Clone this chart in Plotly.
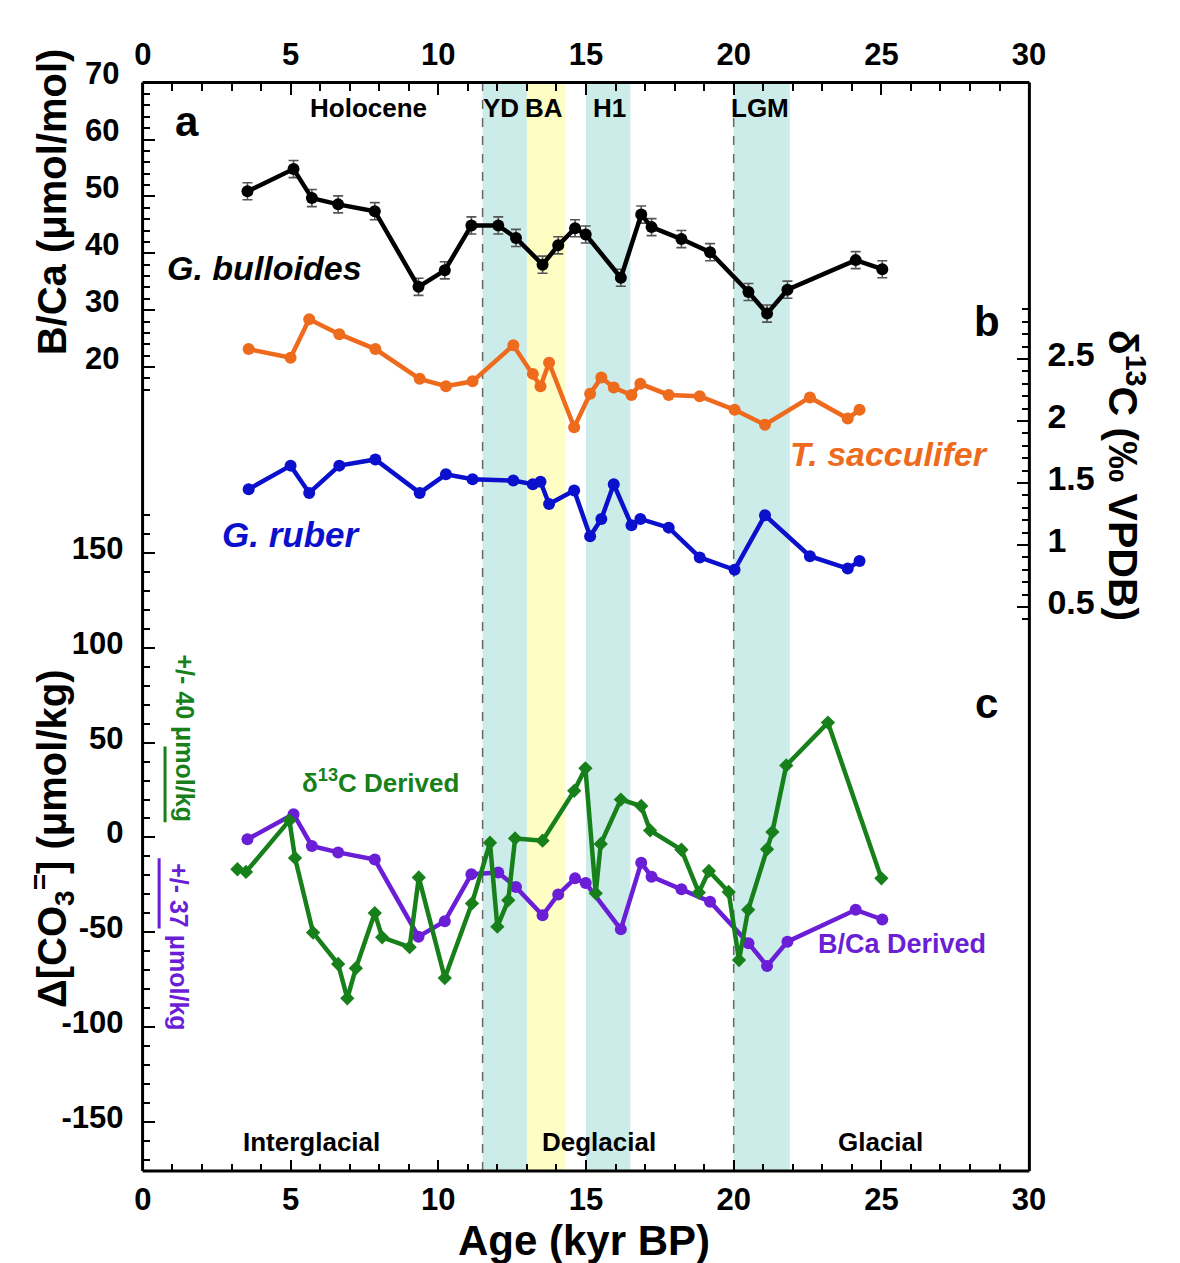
import plotly.graph_objects as go

# ---------------- data ----------------
# G. bulloides B/Ca (umol/mol) and the Delta[CO3=] derived from it
age_bca = [3.54, 5.10, 5.72, 6.61, 7.85, 9.33, 10.22, 11.12, 12.03, 12.63, 13.53, 14.06,
           14.63, 14.99, 16.18, 16.87, 17.22, 18.23, 19.20, 20.50, 21.13, 21.82, 24.13, 25.03]
bca_bulloides = [50.9, 54.8, 49.7, 48.6, 47.4, 34.1, 37.0, 44.9, 44.9, 42.7, 38.0, 41.4,
                 44.4, 43.3, 35.7, 46.8, 44.6, 42.5, 40.2, 33.2, 29.4, 33.6, 38.8, 37.2]
bca_err = [1.5] * len(age_bca)
dco3_bca = [-1.0, 12.3, -4.5, -7.9, -11.7, -52.4, -44.2, -19.4, -18.5, -26.2, -41.1, -30.1,
            -21.6, -24.1, -48.5, -13.4, -20.7, -27.4, -33.9, -55.8, -67.8, -55.0, -38.2, -43.3]

# planktonic d13C (permil VPDB)
age_d13c = [3.58, 5.00, 5.63, 6.65, 7.87, 9.37, 10.26, 11.16, 12.54, 13.20, 13.46, 13.75,
            14.60, 15.14, 15.52, 15.94, 16.54, 16.84, 17.80, 18.85, 20.03, 21.06, 22.58,
            23.86, 24.26]
d13c_sacculifer = [2.58, 2.51, 2.82, 2.70, 2.58, 2.34, 2.28, 2.32, 2.61, 2.38, 2.28, 2.47,
                   1.95, 2.22, 2.35, 2.27, 2.21, 2.30, 2.21, 2.20, 2.09, 1.97, 2.19, 2.02, 2.09]
d13c_ruber = [1.45, 1.64, 1.42, 1.64, 1.69, 1.42, 1.57, 1.53, 1.52, 1.49, 1.51, 1.33,
              1.44, 1.07, 1.21, 1.49, 1.16, 1.21, 1.14, 0.90, 0.80, 1.24, 0.91, 0.81, 0.87]

# Delta[CO3=] derived from d13C
age_dco3_d13c = [3.20, 3.49, 4.96, 5.15, 5.76, 6.61, 6.92, 7.21, 7.85, 8.10, 9.03, 9.34,
                 10.22, 11.14, 11.75, 12.00, 12.37, 12.60, 13.53, 14.60, 14.98, 15.33, 15.50,
                 16.18, 16.87, 17.17, 18.23, 18.82, 19.16, 19.83, 20.18, 20.49, 21.13, 21.31,
                 21.78, 23.19, 25.00]
dco3_d13c = [-16.8, -18.2, 9.0, -10.8, -50.2, -66.8, -84.9, -69.0, -39.9, -52.7, -57.9, -21.1,
             -74.2, -34.8, -2.8, -47.1, -33.1, -0.5, -1.7, 24.6, 36.5, -29.5, -3.4,
             20.0, 16.6, 3.7, -6.5, -29.1, -17.7, -28.8, -64.7, -38.2, -6.2, 2.9,
             38.0, 60.6, -21.6]

# uncertainty of each reconstruction (umol/kg)
err_d13c_derived = 40
err_bca_derived = 37

# climate intervals (kyr BP)
teal_bands = [(11.5, 13.0), (15.0, 16.5), (20.0, 21.9)]
yellow_bands = [(13.0, 14.3)]
boundaries = [11.5, 20.0]

x_ticks = [0, 5, 10, 15, 20, 25, 30]
bca_ticks = [20, 30, 40, 50, 60, 70]
d13c_ticks = [0.5, 1.0, 1.5, 2.0, 2.5]
d13c_labels = ["0.5", "1", "1.5", "2", "2.5"]
dco3_ticks = [-150, -100, -50, 0, 50, 100, 150]
dco3_labels = ["-150", "-100", "-50", "0", "50", "100", "150"]

# ---------------- layout geometry (pixels) ----------------
W, H = 1180, 1263
LEFT, RIGHT, TOP, BOTTOM = 137.5, 1043.5, 57.7, 1169.0
SPLIT_A = 488.0      # bottom of the B/Ca axis / top of the Delta[CO3=] axis
D13C_BOT = 717.0     # bottom of the d13C axis


def px(x):
    return x / W


def py(y):
    return 1 - y / H


FONT = "Liberation Sans, Arial, sans-serif"
BLACK = "#000000"
ORANGE = "#EE6A1C"
BLUE = "#0A10CC"
PURPLE = "#6A1ED6"
GREEN = "#17801A"

fig = go.Figure()

# ---- panel a: B/Ca ----
fig.add_trace(go.Scatter(
    x=age_bca, y=bca_bulloides, mode="lines+markers", xaxis="x", yaxis="y",
    line=dict(color=BLACK, width=4.5), marker=dict(color=BLACK, size=12),
    error_y=dict(type="data", array=bca_err, color="#555555", thickness=1.6, width=5),
    showlegend=False))

# ---- panel b: d13C ----
fig.add_trace(go.Scatter(
    x=age_d13c, y=d13c_sacculifer, mode="lines+markers", xaxis="x", yaxis="y2",
    line=dict(color=ORANGE, width=4.5), marker=dict(color=ORANGE, size=12),
    showlegend=False))
fig.add_trace(go.Scatter(
    x=age_d13c, y=d13c_ruber, mode="lines+markers", xaxis="x", yaxis="y2",
    line=dict(color=BLUE, width=4.5), marker=dict(color=BLUE, size=12),
    showlegend=False))

# ---- panel c: Delta[CO3=] ----
fig.add_trace(go.Scatter(
    x=age_bca, y=dco3_bca, mode="lines+markers", xaxis="x", yaxis="y3",
    line=dict(color=PURPLE, width=4.5), marker=dict(color=PURPLE, size=12),
    showlegend=False))
fig.add_trace(go.Scatter(
    x=age_dco3_d13c, y=dco3_d13c, mode="lines+markers", xaxis="x", yaxis="y3",
    line=dict(color=GREEN, width=4.5),
    marker=dict(color=GREEN, size=11, symbol="diamond"),
    showlegend=False))

# uncertainty scale bars
fig.add_trace(go.Scatter(
    x=[0.75, 0.75], y=[8, 8 + err_d13c_derived], mode="lines", xaxis="x", yaxis="y3",
    line=dict(color=GREEN, width=3), showlegend=False, hoverinfo="skip"))
fig.add_trace(go.Scatter(
    x=[0.55, 0.55], y=[-11, -11 - err_bca_derived], mode="lines", xaxis="x", yaxis="y3",
    line=dict(color=PURPLE, width=3), showlegend=False, hoverinfo="skip"))

# top age axis carrier
fig.add_trace(go.Scatter(x=[0, 30], y=[0, 0], mode="markers", xaxis="x2", yaxis="y",
                         marker=dict(opacity=0), showlegend=False, hoverinfo="skip"))


def tfont(size):
    return dict(family=FONT, size=size, color=BLACK, weight="bold")


xcommon = dict(
    range=[-0.01, 30.01], domain=[px(LEFT), px(RIGHT)], showgrid=False, zeroline=False,
    showline=False, ticks="inside", ticklen=11, tickwidth=2.2, tickcolor=BLACK,
    tickvals=x_ticks, ticktext=[str(v) for v in x_ticks], tickfont=tfont(31),
    minor=dict(ticks="inside", ticklen=7, tickwidth=2, tickcolor=BLACK, dtick=1, tick0=0,
               showgrid=False),
)

bca_range = [70 - (SPLIT_A - TOP) / 5.81, 70.02]
d13c_range = [2.5 - (D13C_BOT - 340) / 126.6, 2.5 + (340 - TOP) / 126.6]

fig.update_layout(
    width=W, height=H, margin=dict(l=0, r=0, t=0, b=0),
    paper_bgcolor="white", plot_bgcolor="rgba(0,0,0,0)",
    font=dict(family=FONT, color=BLACK),
    xaxis=dict(xcommon, anchor="free", position=py(BOTTOM), side="bottom",
               ticklabelstandoff=7),
    xaxis2=dict(xcommon, anchor="free", position=py(TOP), side="top", overlaying="x",
                ticklabelstandoff=11),
    yaxis=dict(
        domain=[py(SPLIT_A), py(TOP)], range=bca_range, anchor="x", side="left",
        showgrid=False, zeroline=False, showline=False,
        ticks="inside", ticklen=12, tickwidth=2.2, tickcolor=BLACK,
        tickvals=bca_ticks, tickfont=tfont(31),
        minor=dict(ticks="inside", ticklen=7, tickwidth=2, tickcolor=BLACK,
                   tickvals=[v for v in range(16, 70, 2) if v % 10 != 0]),
        ticklabelstandoff=22, ticklabelshift=-9),
    yaxis2=dict(
        domain=[py(D13C_BOT), py(TOP)], range=d13c_range, anchor="x", side="right",
        showgrid=False, zeroline=False, showline=False,
        ticks="inside", ticklen=12, tickwidth=2.2, tickcolor=BLACK,
        tickvals=d13c_ticks, ticktext=d13c_labels, tickfont=tfont(34),
        minor=dict(ticks="inside", ticklen=7, tickwidth=2, tickcolor=BLACK,
                   tickvals=[round(0.4 + 0.1 * i, 1) for i in range(26)
                             if round((0.4 + 0.1 * i) * 10) % 5 != 0]),
        ticklabelstandoff=17, ticklabelshift=-5),
    yaxis3=dict(
        domain=[py(BOTTOM), py(SPLIT_A)], range=[-176, 176], anchor="x", side="left",
        showgrid=False, zeroline=False, showline=False,
        ticks="inside", ticklen=12, tickwidth=2.2, tickcolor=BLACK,
        tickvals=dco3_ticks, ticktext=dco3_labels, tickfont=tfont(31),
        minor=dict(ticks="inside", ticklen=7, tickwidth=2, tickcolor=BLACK,
                   tickvals=[v for v in range(-170, 180, 10) if v % 50 != 0]),
        ticklabelstandoff=18, ticklabelshift=-5),
)

# ---- shading and interval boundaries ----
shapes = []
for x0, x1 in teal_bands:
    shapes.append(dict(type="rect", xref="x", yref="paper", x0=x0, x1=x1,
                       y0=py(BOTTOM), y1=py(TOP), fillcolor="#CBECE9",
                       line=dict(width=0), layer="below"))
for x0, x1 in yellow_bands:
    shapes.append(dict(type="rect", xref="x", yref="paper", x0=x0, x1=x1,
                       y0=py(BOTTOM), y1=py(TOP), fillcolor="#FDFDC4",
                       line=dict(width=0), layer="below"))
for xb in boundaries:
    shapes.append(dict(type="line", xref="x", yref="paper", x0=xb, x1=xb,
                       y0=py(BOTTOM), y1=py(TOP),
                       line=dict(color="#666666", width=1.5, dash="dash"), layer="below"))
# plot frame
frame = dict(color=BLACK, width=3)
shapes += [
    dict(type="line", xref="paper", yref="paper", x0=px(LEFT), x1=px(LEFT),
         y0=py(BOTTOM), y1=py(TOP), line=frame),
    dict(type="line", xref="paper", yref="paper", x0=px(RIGHT), x1=px(RIGHT),
         y0=py(BOTTOM), y1=py(TOP), line=frame),
    dict(type="line", xref="paper", yref="paper", x0=px(LEFT), x1=px(RIGHT),
         y0=py(TOP), y1=py(TOP), line=frame),
    dict(type="line", xref="paper", yref="paper", x0=px(LEFT), x1=px(RIGHT),
         y0=py(BOTTOM), y1=py(BOTTOM), line=frame),
]
fig.update_layout(shapes=shapes)


def label(text, x, y, size, color=BLACK, italic=False, angle=0, xref="x"):
    fig.add_annotation(
        text=text, x=x, y=py(y), xref=xref, yref="paper", showarrow=False,
        textangle=angle, xanchor="center", yanchor="middle",
        font=dict(family=FONT, size=size, color=color, weight="bold",
                  style="italic" if italic else "normal"))


# interval names
label("Holocene", 7.63, 84, 26)
label("YD", 12.12, 84, 26)
label("BA", 13.59, 84, 26)
label("H1", 15.78, 84, 26)
label("LGM", 20.9, 84, 26)
label("Interglacial", 5.71, 1139, 26)
label("Deglacial", 15.45, 1139, 26)
label("Glacial", 24.98, 1139, 26)

# panel letters
label("a", 1.51, 97, 42)
label("b", 28.56, 302, 42)
label("c", 28.56, 692, 42)

# species / series names
label("G. bulloides", 4.12, 247, 34, BLACK, italic=True)
label("T. sacculifer", 25.25, 437, 34, ORANGE, italic=True)
label("G. ruber", 5.02, 519, 35, BLUE, italic=True)
label("δ<sup>13</sup>C Derived", 8.03, 771, 26, GREEN)
label("B/Ca Derived", 25.71, 937, 27, PURPLE)

# uncertainty captions
label("+/- %d μmol/kg" % err_d13c_derived, 1.41, 727, 25, GREEN, angle=90)
label("+/- %d μmol/kg" % err_bca_derived, 1.24, 940, 25, PURPLE, angle=90)

# axis titles
label("B/Ca (μmol/mol)", px(45), 180, 40, angle=-90, xref="paper")
label("Δ[CO<sub>3</sub><sup>=</sup>] (μmol/kg)", px(45), 830, 40, angle=-90, xref="paper")
label("δ<sup>13</sup>C (‰ VPDB)", px(1143), 459, 41, angle=90, xref="paper")
label("Age (kyr BP)", px(588), 1240, 42, xref="paper")

fig.write_html("out.html")
